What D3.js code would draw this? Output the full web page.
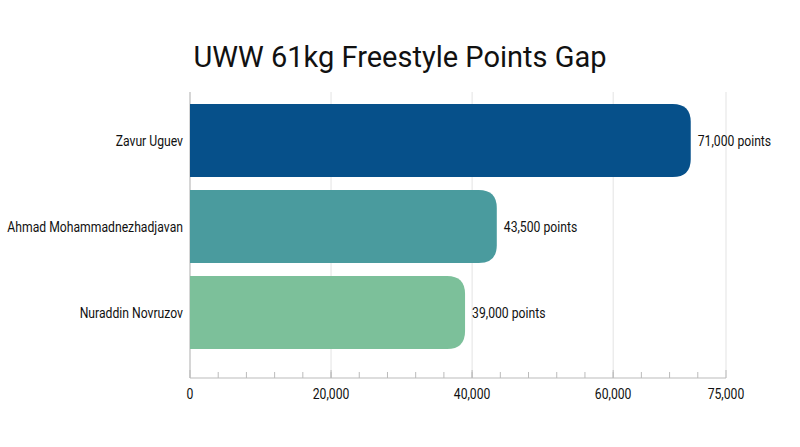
<!DOCTYPE html>
<html><head><meta charset="utf-8">
<script src="https://cdn.jsdelivr.net/npm/d3@7"></script>
<style>body{margin:0;background:#fff}text{font-family:"Roboto",sans-serif}</style>
</head><body><svg id="c" width="800" height="447"></svg>
<script>
const categories=["Zavur Uguev","Ahmad Mohammadnezhadjavan","Nuraddin Novruzov"];
const values=[71000,43500,39000];
const colors=["#06508a","#4a9b9e","#7cc09a"];
const tickValues=[0,20000,40000,60000,76000];
const tickLabels=["0","20,000","40,000","60,000","75,000"];
const svg=d3.select("#c");
const x=d3.scaleLinear().domain([0,76000]).range([190,726]);
const y=d3.scaleBand().domain(categories).range([97.5,355.5]).paddingInner(0.15).paddingOuter(0.075);
function condense(sel){sel.each(function(){const w=this.getComputedTextLength();d3.select(this).attr("textLength",w*0.87).attr("lengthAdjust","spacingAndGlyphs");});}
svg.append("text").attr("x",400).attr("y",67).attr("text-anchor","middle").attr("font-size",29).attr("fill","#111").text("UWW 61kg Freestyle Points Gap");
svg.append("g").selectAll("line").data(tickValues).join("line").attr("x1",d=>x(d)).attr("x2",d=>x(d)).attr("y1",92).attr("y2",378).attr("stroke","#e3e3e3");
const minor=d3.range(4000,76000,4000);
svg.append("g").selectAll("line").data(minor).join("line").attr("x1",d=>x(d)).attr("x2",d=>x(d)).attr("y1",372).attr("y2",378).attr("stroke","#bbb");
svg.append("line").attr("x1",190).attr("x2",726).attr("y1",378).attr("y2",378).attr("stroke","#bbb");
svg.append("line").attr("x1",190).attr("x2",190).attr("y1",92).attr("y2",378).attr("stroke","#bbb");
svg.append("g").selectAll("line").data(tickValues).join("line").attr("x1",d=>x(d)).attr("x2",d=>x(d)).attr("y1",370).attr("y2",378).attr("stroke","#bbb");
svg.append("g").selectAll("text").data(tickValues).join("text").attr("x",d=>x(d)).attr("y",399).attr("text-anchor","middle").attr("font-size",14).attr("fill","#111").text((d,i)=>tickLabels[i]).call(condense);
const r=18;
svg.append("g").selectAll("path").data(values).join("path").attr("fill",(d,i)=>colors[i]).attr("d",(d,i)=>{
 const x0=x(0),x1=x(d),y0=y(categories[i]),h=y.bandwidth();
 return `M${x0},${y0}H${x1-r}Q${x1},${y0} ${x1},${y0+r}V${y0+h-r}Q${x1},${y0+h} ${x1-r},${y0+h}H${x0}Z`;});
svg.append("g").selectAll("text").data(values).join("text").attr("x",d=>x(d)+7).attr("y",(d,i)=>y(categories[i])+y.bandwidth()/2+5).attr("font-size",14).attr("fill","#111").text(d=>d3.format(",")(d)+" points").call(condense);
svg.append("g").selectAll("text").data(categories).join("text").attr("x",183).attr("y",d=>y(d)+y.bandwidth()/2+5).attr("text-anchor","end").attr("font-size",14).attr("fill","#111").text(d=>d).call(condense);
</script></body></html>
